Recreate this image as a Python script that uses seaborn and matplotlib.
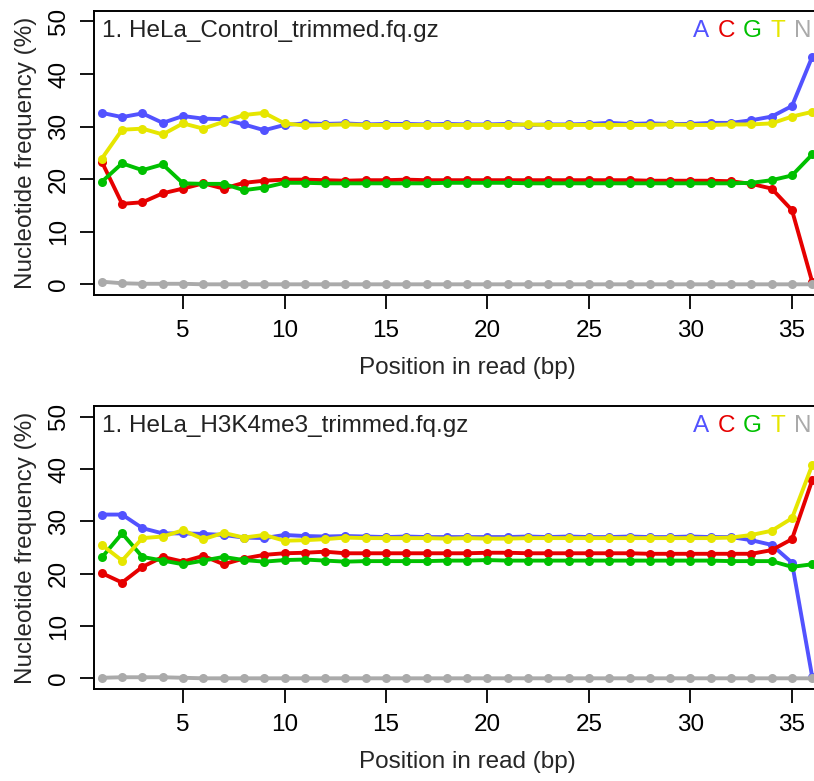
import numpy as np
import pandas as pd
import matplotlib
matplotlib.use("Agg")
import matplotlib.pyplot as plt
import seaborn as sns

# positions in read (bp)
positions = list(range(1, 37))
bases = ["A", "C", "G", "T", "N"]
base_colors = {"A": "#5252FF", "C": "#E60000", "G": "#00C000", "T": "#E6E600", "N": "#AAAAAA"}

# panel 1: HeLa_Control
ctrl_A = [32.6, 31.8, 32.5, 30.7, 32.0, 31.5, 31.4, 30.4, 29.3, 30.3, 30.6, 30.5,
          30.6, 30.4, 30.5, 30.5, 30.4, 30.5, 30.4, 30.4, 30.5, 30.3, 30.4, 30.4,
          30.5, 30.7, 30.5, 30.6, 30.5, 30.5, 30.7, 30.7, 31.2, 31.9, 33.9, 43.3]
ctrl_C = [23.3, 15.3, 15.6, 17.3, 18.2, 19.2, 18.2, 19.3, 19.7, 19.9, 19.9, 19.8,
          19.7, 19.8, 19.8, 19.9, 19.8, 19.8, 19.8, 19.8, 19.8, 19.8, 19.8, 19.8,
          19.8, 19.8, 19.8, 19.7, 19.7, 19.7, 19.7, 19.6, 19.1, 18.2, 14.1, 0.4]
ctrl_G = [19.5, 23.0, 21.7, 22.8, 19.2, 19.1, 19.1, 17.9, 18.4, 19.3, 19.3, 19.2,
          19.2, 19.2, 19.2, 19.2, 19.2, 19.3, 19.3, 19.3, 19.3, 19.2, 19.2, 19.2,
          19.2, 19.2, 19.2, 19.2, 19.2, 19.2, 19.2, 19.2, 19.3, 19.8, 20.7, 24.7]
ctrl_T = [23.9, 29.4, 29.6, 28.5, 30.6, 29.6, 30.9, 32.2, 32.6, 30.6, 30.2, 30.3,
          30.4, 30.3, 30.3, 30.3, 30.3, 30.3, 30.3, 30.3, 30.3, 30.4, 30.3, 30.3,
          30.3, 30.3, 30.3, 30.3, 30.4, 30.3, 30.3, 30.4, 30.4, 30.6, 31.9, 32.8]
ctrl_N = [0.5, 0.2, 0.1, 0.1, 0.1, 0.0, 0.0, 0.0, 0.0, 0.0, 0.0, 0.0,
          0.0, 0.0, 0.0, 0.0, 0.0, 0.0, 0.0, 0.0, 0.0, 0.0, 0.0, 0.0,
          0.0, 0.0, 0.0, 0.0, 0.0, 0.0, 0.0, 0.0, 0.0, 0.0, 0.0, 0.0]

# panel 2: HeLa_H3K4me3
h3_A = [31.3, 31.3, 28.7, 27.7, 27.7, 27.6, 27.4, 26.9, 26.8, 27.4, 27.2, 27.1,
        27.2, 27.1, 27.0, 27.1, 27.0, 27.0, 27.0, 27.0, 27.0, 27.1, 27.0, 27.1,
        27.0, 27.0, 27.1, 27.0, 27.0, 27.1, 27.0, 27.0, 26.4, 25.5, 22.1, 0.2]
h3_C = [20.1, 18.3, 21.3, 23.2, 22.3, 23.4, 21.8, 22.9, 23.6, 23.9, 24.0, 24.2,
        23.9, 23.9, 23.9, 23.9, 23.9, 23.9, 23.9, 24.0, 24.0, 23.9, 23.9, 23.9,
        23.9, 23.9, 23.9, 23.8, 23.8, 23.8, 23.8, 23.8, 23.8, 24.5, 26.6, 37.9]
h3_G = [23.1, 27.7, 23.2, 22.5, 21.8, 22.5, 23.2, 22.6, 22.3, 22.6, 22.7, 22.5,
        22.3, 22.4, 22.4, 22.4, 22.4, 22.5, 22.5, 22.6, 22.5, 22.5, 22.5, 22.5,
        22.5, 22.5, 22.5, 22.5, 22.5, 22.5, 22.5, 22.4, 22.4, 22.4, 21.3, 21.8]
h3_T = [25.5, 22.5, 26.8, 27.1, 28.3, 26.6, 27.8, 26.9, 27.4, 26.3, 26.4, 26.6,
        26.9, 26.8, 26.8, 26.8, 26.8, 26.7, 26.8, 26.7, 26.7, 26.8, 26.8, 26.8,
        26.8, 26.8, 26.8, 26.8, 26.8, 26.8, 26.8, 26.9, 27.4, 28.2, 30.6, 40.8]
h3_N = [0.1, 0.2, 0.2, 0.2, 0.1, 0.0, 0.0, 0.0, 0.0, 0.0, 0.0, 0.0,
        0.0, 0.0, 0.0, 0.0, 0.0, 0.0, 0.0, 0.0, 0.0, 0.0, 0.0, 0.0,
        0.0, 0.0, 0.0, 0.0, 0.0, 0.0, 0.0, 0.0, 0.0, 0.0, 0.0, 0.0]

titles = ["1. HeLa_Control_trimmed.fq.gz", "1. HeLa_H3K4me3_trimmed.fq.gz"]
xticks = [5, 10, 15, 20, 25, 30, 35]
yticks = [0, 10, 20, 30, 40, 50]


def to_long(values):
    frames = []
    for b, v in zip(bases, values):
        frames.append(pd.DataFrame({"pos": positions, "freq": v, "base": b}))
    return pd.concat(frames, ignore_index=True)


sns.set_style("ticks")
plt.rcParams["font.family"] = ["Liberation Sans", "DejaVu Sans"]

fig = plt.figure(figsize=(8.14, 7.81), dpi=100)
ax1 = fig.add_axes([0.1151, 0.6225, 0.9177, 0.3636])
ax2 = fig.add_axes([0.1151, 0.1181, 0.9177, 0.3617])

panels = [(ax1, [ctrl_A, ctrl_C, ctrl_G, ctrl_T, ctrl_N]),
          (ax2, [h3_A, h3_C, h3_G, h3_T, h3_N])]

for (ax, vals), title in zip(panels, titles):
    df = to_long(vals)
    sns.lineplot(data=df, x="pos", y="freq", hue="base", hue_order=bases,
                 palette=base_colors, marker="o", markersize=6.5,
                 markeredgewidth=0, linewidth=2.8, legend=False, ax=ax,
                 clip_on=False)
    ax.set_xlim(0.6, 37.4)
    ax.set_ylim(-2, 52)
    ax.set_xticks(xticks)
    ax.set_yticks(yticks)
    ax.tick_params(axis="both", direction="out", length=10, width=1.3,
                   labelsize=17.5, colors="black")
    ax.tick_params(axis="x", pad=8)
    ax.tick_params(axis="y", pad=7)
    plt.setp(ax.get_yticklabels(), rotation=90, va="center")
    for sp in ax.spines.values():
        sp.set_visible(True)
        sp.set_linewidth(1.4)
        sp.set_color("black")
    ax.set_xlabel("Position in read (bp)", fontsize=17.5, labelpad=11)
    ax.set_ylabel("Nucleotide frequency (%)", fontsize=17.5, labelpad=8)
    ax.text(0.011, 0.93, title, transform=ax.transAxes, fontsize=17.5,
            ha="left", va="center", color="#222222")
    for i, b in enumerate(bases):
        ax.text(0.813 + i * 0.0342, 0.93, b, transform=ax.transAxes,
                fontsize=17.5, ha="center", va="center", color=base_colors[b])

fig.savefig("out.png", dpi=100)
